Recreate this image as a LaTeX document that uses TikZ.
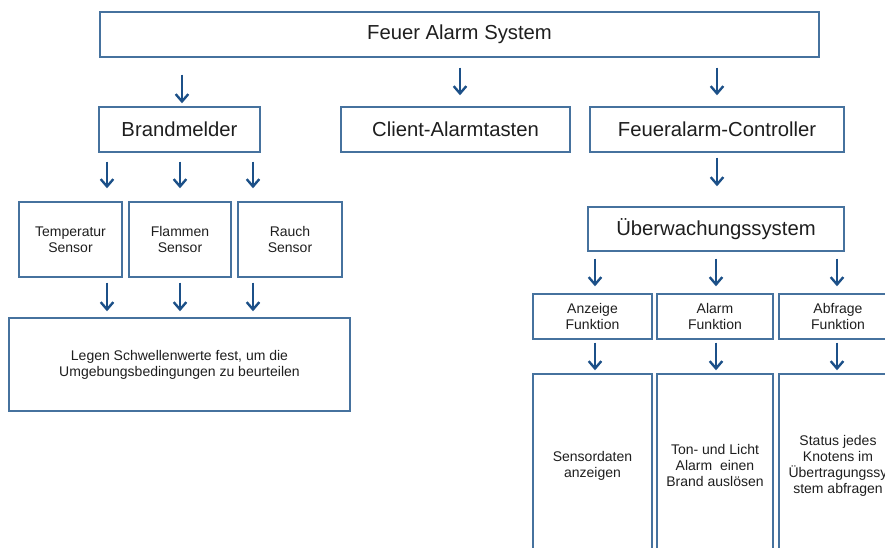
\documentclass[tikz,border=0pt]{standalone}
\usepackage{fontspec}
\setmainfont{Liberation Sans}
\usetikzlibrary{arrows.meta}
\definecolor{boxline}{RGB}{70,114,158}
\definecolor{arrowblue}{RGB}{28,80,136}
\definecolor{textdark}{RGB}{30,30,30}
\begin{document}
\begin{tikzpicture}[x=0.75pt,y=-0.75pt,
  box/.style={draw=boxline, line width=1.1pt, inner sep=0pt, align=center,
    text=textdark, font=\fontsize{10.5}{12}\selectfont},
  headbox/.style={box, font=\fontsize{15.2}{17}\selectfont},
  arr/.style={draw=arrowblue, line width=1.8pt,
    -{Straight Barb[length=5.5pt,width=9.5pt,line width=1.8pt]}}]
\useasboundingbox (0,0) rectangle (885,547);
\clip (0,0) rectangle (885,547);

% top level
\node[headbox, minimum width=719*0.75pt, minimum height=45*0.75pt] (top) at (459.5,34.5) {Feuer Alarm System};

% second level
\node[headbox, minimum width=161*0.75pt, minimum height=45*0.75pt] (brand) at (179.5,129.5) {Brandmelder};
\node[headbox, minimum width=229*0.75pt, minimum height=45*0.75pt] (client) at (455.5,129.5) {Client-Alarmtasten};
\node[headbox, minimum width=254*0.75pt, minimum height=45*0.75pt] (ctrl) at (717,129.5) {Feueralarm-Controller};

% sensors
\node[box, minimum width=103*0.75pt, minimum height=75*0.75pt] (temp) at (70.5,239.5) {Temperatur\\Sensor};
\node[box, minimum width=102*0.75pt, minimum height=75*0.75pt] (flam) at (180,239.5) {Flammen\\Sensor};
\node[box, minimum width=104*0.75pt, minimum height=75*0.75pt] (rauch) at (290,239.5) {Rauch\\Sensor};
\node[box, minimum width=341*0.75pt, minimum height=93*0.75pt] (thresh) at (179.5,364.5)
  {Legen Schwellenwerte fest, um die\\Umgebungsbedingungen zu beurteilen};

% monitoring branch
\node[headbox, minimum width=256*0.75pt, minimum height=44*0.75pt] (uber) at (716,229) {Überwachungssystem};
\node[box, minimum width=119*0.75pt, minimum height=45*0.75pt] (anz) at (592.5,316.5) {Anzeige\\Funktion};
\node[box, minimum width=116*0.75pt, minimum height=45*0.75pt] (alarm) at (715,316.5) {Alarm\\Funktion};
\node[box, minimum width=118*0.75pt, minimum height=45*0.75pt] (abf) at (838,316.5) {Abfrage\\Funktion};
\node[box, minimum width=119*0.75pt, minimum height=183*0.75pt] (sd) at (592.5,465.5) {Sensordaten\\anzeigen};
\node[box, minimum width=116*0.75pt, minimum height=183*0.75pt] (ton) at (715,465.5) {Ton- und Licht\\Alarm\ \ einen\\Brand auslösen};
\node[box, minimum width=118*0.75pt, minimum height=183*0.75pt] (stat) at (838,465.5) {Status jedes\\Knotens im\\Übertragungssy\\stem abfragen};

% x positions of the arrows
\coordinate (xa) at (182,0);
\coordinate (xb) at (460,0);
\coordinate (xc) at (717,0);
\coordinate (s1) at (107,0);
\coordinate (s2) at (180,0);
\coordinate (s3) at (253,0);
\coordinate (f1) at (595,0);
\coordinate (f2) at (716,0);
\coordinate (f3) at (837,0);

% arrows
\draw[arr, shorten <=17*0.75pt, shorten >=3*0.75pt] (top.south -| xa) -- (brand.north -| xa);
\draw[arr, shorten <=10*0.75pt, shorten >=11*0.75pt] (top.south -| xb) -- (client.north -| xb);
\draw[arr, shorten <=10*0.75pt, shorten >=11*0.75pt] (top.south -| xc) -- (ctrl.north -| xc);
\draw[arr, shorten <=5*0.75pt, shorten >=20*0.75pt] (ctrl.south -| xc) -- (uber.north -| xc);

\foreach \x/\n in {s1/temp, s2/flam, s3/rauch}{
  \draw[arr, shorten <=9*0.75pt, shorten >=13*0.75pt] (brand.south -| \x) -- (\n.north -| \x);
  \draw[arr, shorten <=5*0.75pt, shorten >=6*0.75pt] (\n.south -| \x) -- (thresh.north -| \x);
}
\foreach \x/\n/\m in {f1/anz/sd, f2/alarm/ton, f3/abf/stat}{
  \draw[arr, shorten <=7*0.75pt, shorten >=7*0.75pt] (uber.south -| \x) -- (\n.north -| \x);
  \draw[arr, shorten <=3*0.75pt, shorten >=3*0.75pt] (\n.south -| \x) -- (\m.north -| \x);
}
\end{tikzpicture}
\end{document}
